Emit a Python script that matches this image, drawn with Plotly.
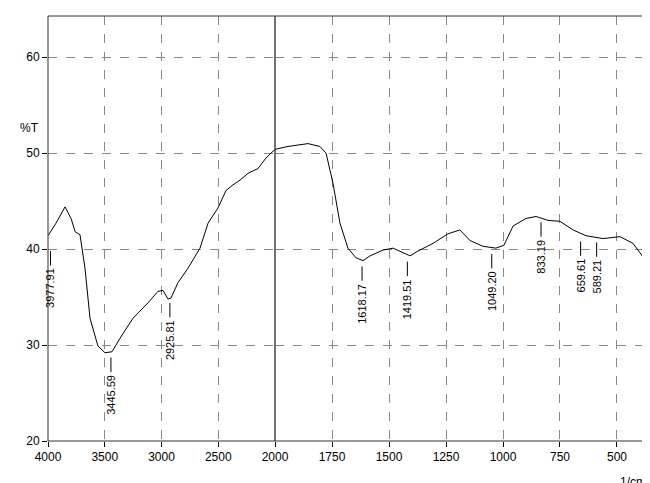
import plotly.graph_objects as go

wn_left = [4000,3930,3850,3797,3760,3718,3674,3630,3560,3498,3436,3366,3251,3119,3031,2987,2943,2916,2855,2767,2661,2590,2502,2432,2370,2308,2238,2150,2079,2000]
t_left = [41.4,42.7,44.4,43.2,41.8,41.5,38.0,32.8,29.9,29.2,29.3,30.7,32.8,34.4,35.6,35.7,34.8,34.9,36.5,38.0,40.1,42.7,44.3,46.1,46.7,47.2,47.9,48.4,49.5,50.4]
wn_right = [2000,1943,1855,1803,1776,1746,1715,1680,1645,1614,1583,1526,1482,1439,1408,1373,1307,1241,1189,1145,1088,1031,996,956,899,855,803,750,693,636,561,487,430,364]
t_right = [50.4,50.7,51.0,50.7,50.0,46.9,42.7,40.1,39.1,38.8,39.3,39.9,40.1,39.6,39.3,39.8,40.6,41.6,42.0,40.9,40.3,40.1,40.4,42.4,43.2,43.4,43.0,42.9,42.0,41.4,41.1,41.3,40.6,38.5]

peak_labels = ["3977.91","3445.59","2925.81","1618.17","1419.51","1049.20","833.19","659.61","589.21"]
peak_x = [3977.91,3445.59,2925.81,1618.17,1419.51,1049.20,833.19,659.61,589.21]
peak_top = [40.2,29.1,34.8,38.6,39.1,39.9,43.2,41.2,41.1]

fig = go.Figure()
fig.add_trace(go.Scatter(x=wn_left, y=t_left, mode="lines", line=dict(color="black", width=1), xaxis="x", yaxis="y", showlegend=False))
fig.add_trace(go.Scatter(x=wn_right, y=t_right, mode="lines", line=dict(color="black", width=1), xaxis="x2", yaxis="y", showlegend=False))

split = 227/600
for lab, px, top in zip(peak_labels, peak_x, peak_top):
    xr = "x" if px > 2000 else "x2"
    fig.add_shape(type="line", xref=xr, yref="y", x0=px, x1=px, y0=top-0.4, y1=top-1.9, line=dict(color="black", width=1))
    fig.add_annotation(x=px, y=top-2.0, xref=xr, yref="y", text=lab, textangle=-90, showarrow=False,
                       xanchor="center", yanchor="top", font=dict(size=11, color="black"))

fig.add_shape(type="rect", xref="paper", yref="paper", x0=0, x1=1, y0=0, y1=1, line=dict(color="#333", width=1))
fig.add_shape(type="line", xref="paper", yref="paper", x0=split, x1=split, y0=0, y1=1, line=dict(color="#444", width=1.5))

fig.add_annotation(x=-0.012, y=52.6, xref="paper", yref="y", text="%T", showarrow=False, xanchor="right", font=dict(size=12, color="black"))
fig.add_annotation(x=1.0, y=-0.075, xref="paper", yref="paper", text="1/cm", showarrow=False, xanchor="right", yanchor="top", font=dict(size=12, color="black"))

axcommon = dict(showgrid=True, gridcolor="#888", griddash="dash", gridwidth=1, ticks="outside", ticklen=5, tickcolor="black",
                tickfont=dict(size=12, color="black", family="Arial"), zeroline=False, showline=False, automargin=False)
fig.update_layout(
    width=650, height=483, margin=dict(l=40, r=10, t=8, b=50, autoexpand=False),
    paper_bgcolor="white", plot_bgcolor="white", font=dict(family="Arial"),
    xaxis=dict(domain=[0, split], range=[4000, 2000], tickvals=[4000,3500,3000,2500,2000], **axcommon),
    xaxis2=dict(domain=[split, 1], range=[2000, 364], tickvals=[1750,1500,1250,1000,750,500], anchor="y", **axcommon),
    yaxis=dict(range=[20, 64.3], tickvals=[20,30,40,50,60], **axcommon),
)
fig.write_html("out.html")
